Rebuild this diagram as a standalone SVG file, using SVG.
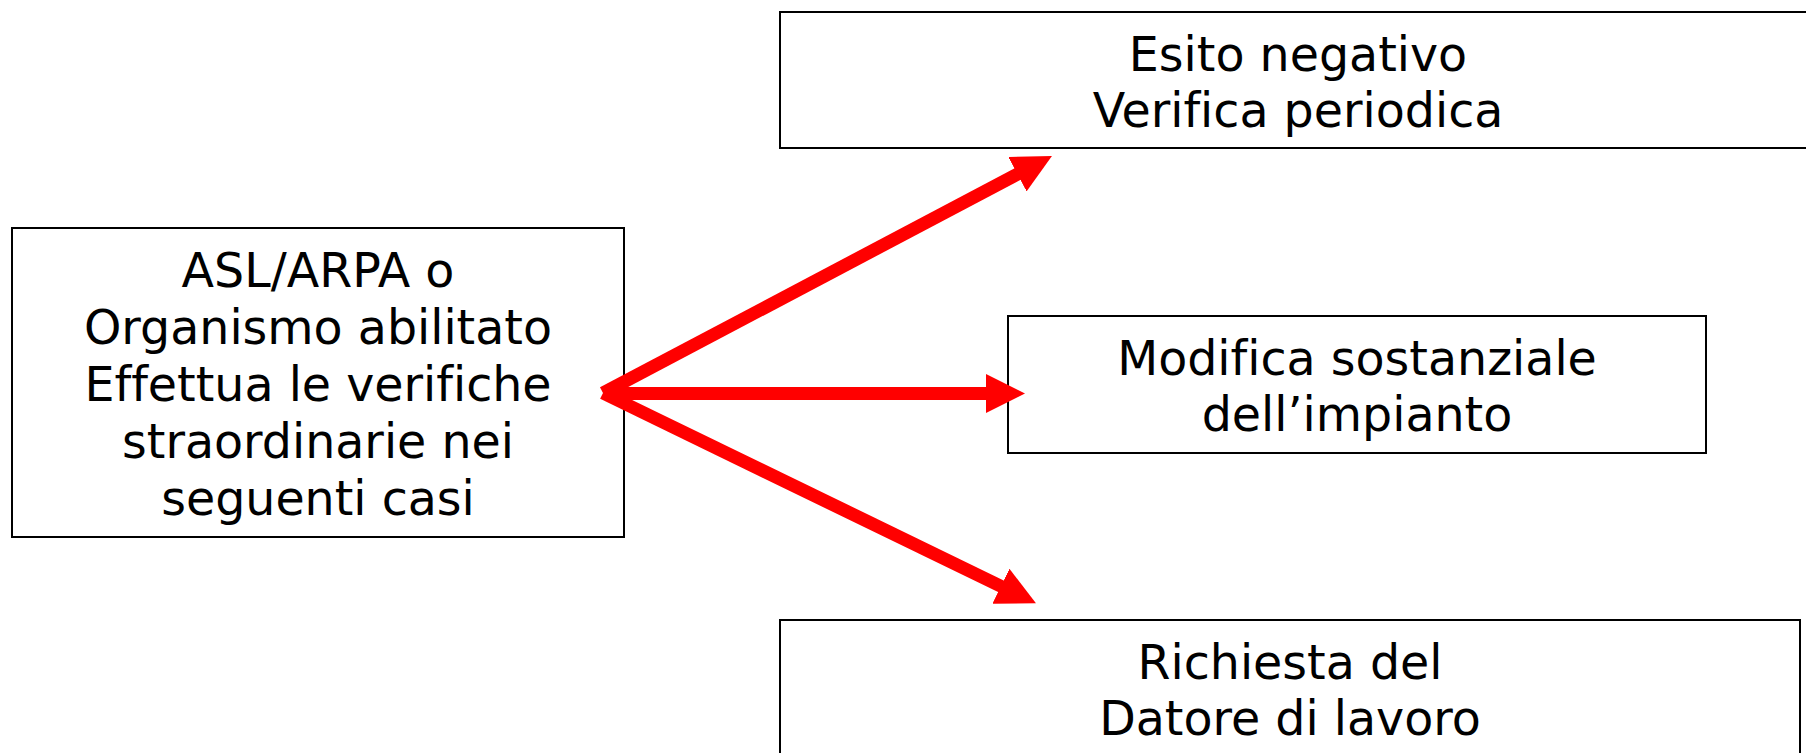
<svg xmlns="http://www.w3.org/2000/svg" width="1806" height="753" viewBox="0 0 1806 753">
  <style>
    .box { fill: #ffffff; stroke: #000000; stroke-width: 2; }
    .label { font-family: "DejaVu Sans", Verdana, sans-serif; font-size: 47.5px; fill: #000000; text-anchor: middle; font-variant-ligatures: none; font-feature-settings: "liga" 0, "clig" 0; }
    .link { stroke: #ff0000; stroke-width: 13; stroke-linecap: butt; fill: none; marker-end: url(#head); }
  </style>
  <defs>
    <marker id="head" markerUnits="userSpaceOnUse" viewBox="0 0 39 39" markerWidth="39" markerHeight="39" refX="4" refY="19.5" orient="auto">
      <path d="M0,0 L39,19.5 L0,39 Z" fill="#ff0000"/>
    </marker>
  </defs>
  <rect width="1806" height="753" fill="#ffffff"/>

  <g id="source">
    <rect class="box" x="12" y="228" width="612" height="309"/>
    <text class="label" x="318" y="287">ASL/ARPA o</text>
    <text class="label" x="318" y="344">Organismo abilitato</text>
    <text class="label" x="318" y="401">Effettua le verifiche</text>
    <text class="label" x="318" y="458">straordinarie nei</text>
    <text class="label" x="318" y="515">seguenti casi</text>
  </g>

  <g id="esito-negativo">
    <rect class="box" x="780" y="12" width="1036" height="136"/>
    <text class="label" x="1298" y="71">Esito negativo</text>
    <text class="label" x="1298" y="127">Verifica periodica</text>
  </g>

  <g id="modifica-sostanziale">
    <rect class="box" x="1008" y="316" width="698" height="137"/>
    <text class="label" x="1357" y="375">Modifica sostanziale</text>
    <text class="label" x="1357" y="431">dell’impianto</text>
  </g>

  <g id="richiesta-datore">
    <rect class="box" x="780" y="620" width="1020" height="160"/>
    <text class="label" x="1290" y="679">Richiesta del</text>
    <text class="label" x="1290" y="735">Datore di lavoro</text>
  </g>

  <g id="connectors">
    <line class="link" x1="603" y1="393" x2="1021" y2="172.3"/>
    <line class="link" x1="603" y1="393.5" x2="990" y2="393.5"/>
    <line class="link" x1="603" y1="393" x2="1004.5" y2="588"/>
  </g>
</svg>
